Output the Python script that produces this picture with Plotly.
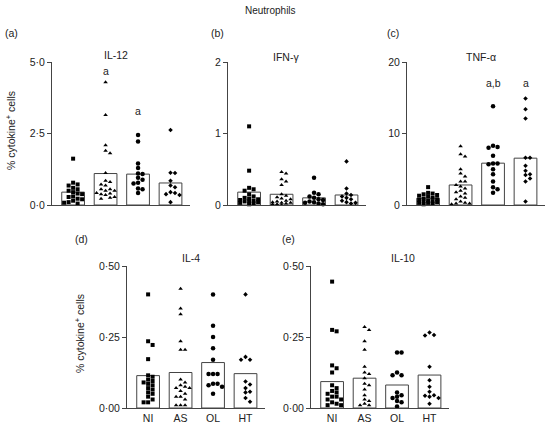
import math
import plotly.graph_objects as go

# ---------------- data ----------------
categories = ["NI", "AS", "OL", "HT"]
panel_titles = ["IL-12", "IFN-γ", "TNF-α", "IL-4", "IL-10"]
panel_letters = ["(a)", "(b)", "(c)", "(d)", "(e)"]

il12_NI = [1.62, 0.78, 0.72, 0.68, 0.60, 0.55, 0.50, 0.45, 0.40, 0.38, 0.30, 0.28, 0.22, 0.20, 0.15, 0.10, 0.08, 0.05]
il12_AS = [4.29, 3.15, 2.09, 1.90, 1.81, 1.12, 0.85, 0.80, 0.72, 0.68, 0.55, 0.55, 0.50, 0.50, 0.42, 0.40, 0.38, 0.35, 0.28, 0.25, 0.22]
il12_OL = [2.45, 2.22, 1.45, 1.29, 1.10, 1.08, 0.95, 0.88, 0.78, 0.75, 0.58, 0.55, 0.42]
il12_HT = [2.62, 1.13, 1.12, 0.85, 0.68, 0.62, 0.45, 0.42, 0.38, 0.35, 0.10]
il12_bars = [0.45, 1.10, 1.08, 0.77]

ifng_NI = [1.10, 0.48, 0.24, 0.22, 0.20, 0.15, 0.12, 0.10, 0.09, 0.08, 0.07, 0.06, 0.05, 0.05, 0.04, 0.03, 0.02, 0.01]
ifng_AS = [0.46, 0.44, 0.36, 0.33, 0.28, 0.15, 0.13, 0.11, 0.09, 0.08, 0.06, 0.05, 0.04, 0.03, 0.03, 0.02, 0.01, 0.01, 0.00]
ifng_OL = [0.38, 0.17, 0.15, 0.12, 0.10, 0.08, 0.07, 0.05, 0.04, 0.03, 0.02, 0.01]
ifng_HT = [0.61, 0.23, 0.16, 0.14, 0.12, 0.10, 0.08, 0.06, 0.04, 0.03, 0.02]
ifng_bars = [0.18, 0.15, 0.10, 0.14]

tnfa_NI = [2.5, 1.7, 1.6, 1.5, 1.4, 1.3, 1.2, 1.0, 0.9, 0.8, 0.7, 0.6, 0.5, 0.5, 0.4, 0.3, 0.3, 0.2, 0.1]
tnfa_AS = [8.2, 7.1, 6.8, 5.0, 4.4, 4.0, 3.3, 3.3, 2.8, 2.6, 2.3, 2.0, 1.8, 1.6, 1.2, 1.0, 0.8, 0.5, 0.3, 0.2, 0.2, 0.1]
tnfa_OL = [13.8, 8.3, 8.1, 8.0, 6.9, 5.8, 5.8, 5.7, 5.0, 4.3, 3.3, 2.5, 2.2, 1.7]
tnfa_HT = [14.9, 13.4, 12.1, 6.6, 6.6, 5.5, 4.8, 4.3, 4.2, 3.7, 3.3, 0.5]
tnfa_bars = [0.95, 2.8, 5.85, 6.55]

il4_NI = [0.40, 0.235, 0.222, 0.172, 0.115, 0.11, 0.10, 0.095, 0.09, 0.085, 0.08, 0.07, 0.065, 0.055, 0.05, 0.04, 0.03, 0.02, 0.02]
il4_AS = [0.42, 0.35, 0.33, 0.235, 0.205, 0.205, 0.10, 0.09, 0.08, 0.075, 0.07, 0.07, 0.06, 0.05, 0.04, 0.04, 0.03, 0.01, 0.01, 0.01]
il4_OL = [0.40, 0.29, 0.25, 0.21, 0.17, 0.12, 0.12, 0.12, 0.085, 0.085, 0.08, 0.075, 0.05]
il4_HT = [0.40, 0.18, 0.17, 0.17, 0.093, 0.083, 0.07, 0.057, 0.055, 0.035, 0.022]
il4_bars = [0.114, 0.125, 0.16, 0.121]

il10_NI = [0.445, 0.275, 0.27, 0.15, 0.14, 0.125, 0.08, 0.07, 0.06, 0.055, 0.05, 0.04, 0.04, 0.03, 0.03, 0.02, 0.015, 0.01, 0.01]
il10_AS = [0.285, 0.275, 0.235, 0.205, 0.145, 0.125, 0.12, 0.105, 0.085, 0.08, 0.065, 0.045, 0.03, 0.025, 0.015, 0.01, 0.01]
il10_OL = [0.195, 0.195, 0.125, 0.115, 0.115, 0.055, 0.045, 0.04, 0.035, 0.025, 0.02, 0.005]
il10_HT = [0.266, 0.257, 0.255, 0.145, 0.098, 0.075, 0.057, 0.045, 0.043, 0.04, 0.035, 0.015]
il10_bars = [0.093, 0.105, 0.081, 0.116]

y_max = [5.0, 2.0, 20.0, 0.5, 0.5]
tick_vals = [[0, 2.5, 5.0], [0, 1, 2], [0, 10, 20], [0, 0.25, 0.5], [0, 0.25, 0.5]]
tick_text = [["0·0", "2·5", "5·0"], ["0", "1", "2"], ["0", "10", "20"],
             ["0·00", "0·25", "0·50"], ["0·00", "0·25", "0·50"]]

# significance letters: (panel index, category index, y value, text)
sig_labels = [(0, 1, 4.70, "a"), (0, 2, 3.28, "a"), (2, 2, 17.0, "a,b"), (2, 3, 17.0, "a")]

panels_points = [
    [il12_NI, il12_AS, il12_OL, il12_HT],
    [ifng_NI, ifng_AS, ifng_OL, ifng_HT],
    [tnfa_NI, tnfa_AS, tnfa_OL, tnfa_HT],
    [il4_NI, il4_AS, il4_OL, il4_HT],
    [il10_NI, il10_AS, il10_OL, il10_HT],
]
panels_bars = [il12_bars, ifng_bars, tnfa_bars, il4_bars, il10_bars]

# ---------------- layout geometry (page pixels) ----------------
W, H = 550, 425


def px(x):
    return x / W


def py(y):
    return 1 - y / H


# (left, right, top, bottom) of each plot area in page pixels
boxes = [(52, 190, 62, 205), (228, 366, 62, 205), (407, 545, 62, 205),
         (127, 265, 266, 408), (311, 449, 266, 408)]
title_pos = [(116, 55), (286, 57), (481, 57), (191, 258), (403, 258)]
letter_pos = [(11, 33), (217, 33), (393, 33), (81, 239), (288, 239)]
x_range = [-0.65, 3.6]

symbols = ["square", "triangle-up", "circle", "diamond"]
sizes = [4, 4, 4.5, 3.5]

INK = "#222222"
LINE = "#444444"
FONT = "Liberation Sans, Arial, sans-serif"


def swarm(values, xpx, ypx, dmin=4.2, step=4.5, maxsteps=2):
    placed = []
    offs = []
    cands = [0.0]
    for k in range(1, maxsteps + 1):
        cands += [k * step, -k * step]
    for v in values:
        y = v * ypx
        best, bestd = None, -1
        for c in cands:
            md = min([math.hypot(c - qx, y - qy) for qx, qy in placed] or [1e9])
            if md >= dmin:
                best = c
                break
            if md > bestd:
                bestd, best = md, c
        placed.append((best, y))
        offs.append(best / xpx)
    return offs


fig = go.Figure()
layout = dict(width=W, height=H, margin=dict(l=0, r=0, t=0, b=0, autoexpand=False),
              paper_bgcolor="white", plot_bgcolor="white", showlegend=False,
              font=dict(family=FONT, size=10, color=INK))
annotations = []

for p in range(5):
    L, R, T, B = boxes[p]
    ax = "" if p == 0 else str(p + 1)
    xa, ya = "x" + ax, "y" + ax
    xpx = (R - L) / (x_range[1] - x_range[0])
    ypx = (B - T) / y_max[p]
    bottom_row = p >= 3
    layout["xaxis" + ax] = dict(
        domain=[px(L), px(R)], anchor=ya, range=x_range, automargin=False,
        tickvals=[0, 1, 2, 3], ticktext=categories,
        showticklabels=bottom_row, ticks="", showline=True, linecolor=LINE, linewidth=1,
        showgrid=False, zeroline=False, tickfont=dict(size=10.5, color=INK), fixedrange=True)
    layout["yaxis" + ax] = dict(
        domain=[py(B), py(T)], anchor=xa, range=[0, y_max[p]], automargin=False,
        tickvals=tick_vals[p], ticktext=tick_text[p], ticks="outside", ticklen=4,
        tickcolor=LINE, showline=True, linecolor=LINE, linewidth=1, showgrid=False,
        zeroline=False, tickfont=dict(size=10.5, color=INK), fixedrange=True)

    fig.add_trace(go.Bar(x=[0, 1, 2, 3], y=panels_bars[p], width=0.7,
                         marker=dict(color="white", line=dict(color=LINE, width=1)),
                         xaxis=xa, yaxis=ya))
    for g in range(4):
        vals = panels_points[p][g]
        offs = swarm(vals, xpx, ypx)
        fig.add_trace(go.Scatter(
            x=[g + o for o in offs], y=vals, mode="markers", cliponaxis=False,
            marker=dict(symbol=symbols[g], size=sizes[g], color="black", line=dict(width=0)),
            xaxis=xa, yaxis=ya))

    tx, ty = title_pos[p]
    annotations.append(dict(text=panel_titles[p], x=px(tx), y=py(ty), xref="paper", yref="paper",
                            showarrow=False, xanchor="center", yanchor="middle", font=dict(size=10.5)))
    lx, ly = letter_pos[p]
    annotations.append(dict(text=panel_letters[p], x=px(lx), y=py(ly), xref="paper", yref="paper",
                            showarrow=False, xanchor="center", yanchor="middle", font=dict(size=10.5)))

for (p, g, yv, txt) in sig_labels:
    ax = "" if p == 0 else str(p + 1)
    annotations.append(dict(text=txt, x=g, y=yv, xref="x" + ax, yref="y" + ax, showarrow=False,
                            xanchor="center", yanchor="middle", font=dict(size=10.5)))

annotations.append(dict(text="Neutrophils", x=px(270), y=py(11), xref="paper", yref="paper",
                        showarrow=False, xanchor="center", yanchor="middle", font=dict(size=10)))
for (ax_x, ax_y) in [(10, 131), (79, 334)]:
    annotations.append(dict(text="% cytokine<sup>+</sup> cells", x=px(ax_x), y=py(ax_y),
                            xref="paper", yref="paper", showarrow=False, textangle=-90,
                            xanchor="center", yanchor="middle", font=dict(size=10.5)))

layout["annotations"] = annotations
fig.update_layout(**layout)
fig.write_html("out.html", config={"displayModeBar": False},
               post_script="document.body.style.margin='0px';document.body.style.overflow='hidden';")
